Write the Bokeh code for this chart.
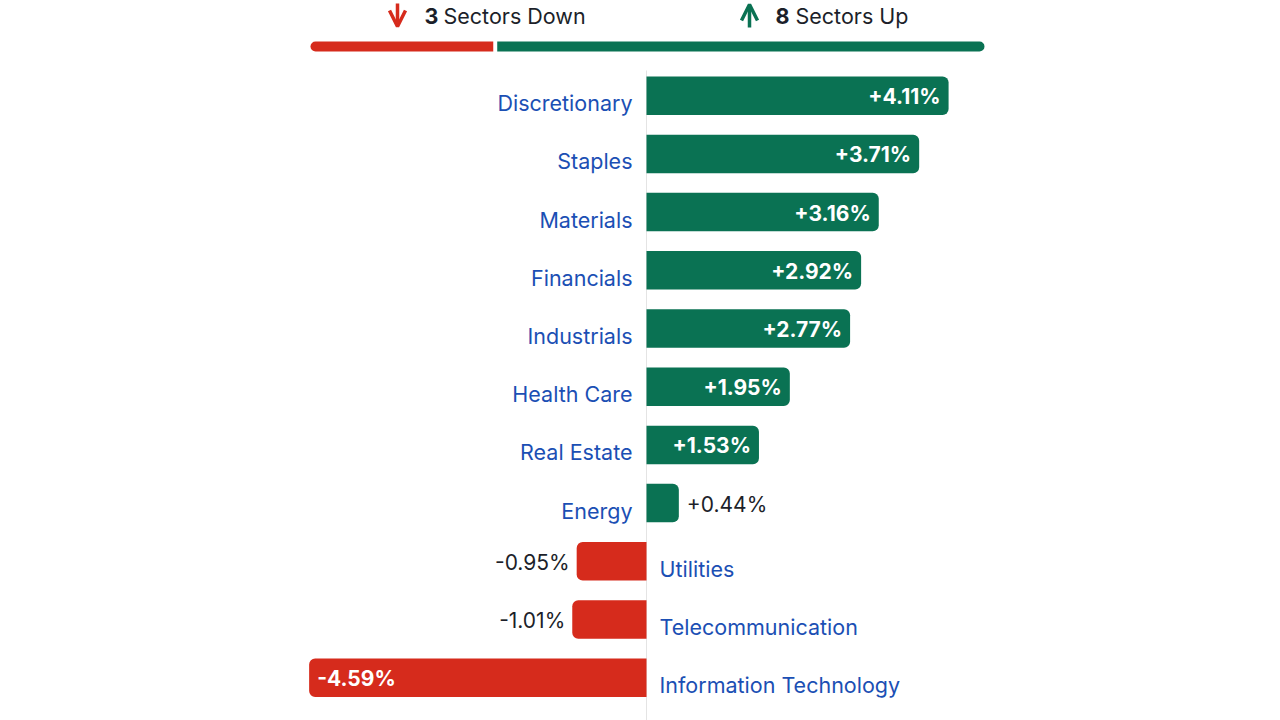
from bokeh.plotting import figure
from bokeh.models import Range1d, ColumnDataSource, Arrow, OpenHead
from bokeh.core.properties import value
from bokeh.embed import file_html
from bokeh.resources import INLINE

# ---- data ----
sectors = ["Discretionary", "Staples", "Materials", "Financials", "Industrials",
           "Health Care", "Real Estate", "Energy", "Utilities", "Telecommunication",
           "Information Technology"]
changes = [4.11, 3.71, 3.16, 2.92, 2.77, 1.95, 1.53, 0.44, -0.95, -1.01, -4.59]
down_label = "Sectors Down"
up_label = "Sectors Up"

# ---- layout constants (screen pixels) ----
W, H = 1280, 720
OX, OY = 0, 0
ZERO = 646.0
PXP = 73.5        # pixels per percent
ROW0 = 95.2
PITCH = 58.2
TXT_FIX = -8      # svg alphabetic baseline correction

GREEN = "#0a7253"
RED = "#d62b1c"
BLUE = "#1b4fb4"
DARK = "#1c1f2a"
FONT = value("Inter")

def sx(px):
    return (px - ZERO) / PXP

def sy(py):
    return (py - ROW0) / PITCH

p = figure(width=W, height=H, output_backend="svg", toolbar_location=None,
           x_range=Range1d(sx(OX), sx(OX + W)), y_range=Range1d(sy(OY + H), sy(OY)),
           min_border=0, outline_line_color=None)
p.axis.visible = False
p.grid.visible = False

idx = list(range(len(sectors)))
pos = [i for i in idx if changes[i] >= 0]
neg = [i for i in idx if changes[i] < 0]

# zero line
p.segment(x0=[0], y0=[sy(70)], x1=[0], y1=[sy(OY + H)], line_color="#e4e4e4", line_width=1)

bar_h = 38.5 / PITCH
p.hbar(y=[i for i in pos], left=0, right=[changes[i] for i in pos], height=bar_h,
       fill_color=GREEN, line_color=None, border_radius=(0, 6, 6, 0))
p.hbar(y=[i for i in neg], left=[changes[i] for i in neg], right=0, height=bar_h,
       fill_color=RED, line_color=None, border_radius=(6, 0, 0, 6))

# category labels
p.text(x=0, y=pos, text=[sectors[i] for i in pos], text_align="right",
       text_baseline="alphabetic", x_offset=-14, y_offset=15.5 + TXT_FIX,
       text_font=FONT, text_font_size="21.5px", text_color=BLUE)
p.text(x=0, y=neg, text=[sectors[i] for i in neg], text_align="left",
       text_baseline="alphabetic", x_offset=13, y_offset=15.5 + TXT_FIX,
       text_font=FONT, text_font_size="21.5px", text_color=BLUE)

# value labels
fmt = lambda v: f"{v:+.2f}%"
inside = [i for i in idx if abs(changes[i]) >= 1.5]
outside = [i for i in idx if abs(changes[i]) < 1.5]
for group, col, weight in ((inside, "white", "bold"), (outside, DARK, "normal")):
    src = ColumnDataSource(dict(
        x=[changes[i] for i in group], y=group,
        t=[fmt(changes[i]) for i in group],
        align=[("right" if changes[i] >= 0 else "left") if group is inside
               else ("left" if changes[i] >= 0 else "right") for i in group],
        xo=[(-8 if changes[i] >= 0 else 8) if group is inside
            else (8 if changes[i] >= 0 else -7) for i in group],
    ))
    p.text(x="x", y="y", text="t", source=src, text_align="align", x_offset="xo",
           y_offset=9 + TXT_FIX, text_baseline="alphabetic", text_font=FONT,
           text_font_size="21px", text_color=col, text_font_style=weight)

# header counts
n_down = len(neg)
n_up = len(pos)
hb = sy(23 + TXT_FIX)
p.text(x=[sx(424)], y=[hb], text=[str(n_down)], text_font=FONT, text_font_size="21.5px",
       text_font_style="bold", text_color=DARK, text_baseline="alphabetic")
p.text(x=[sx(443)], y=[hb], text=[down_label], text_font=FONT, text_font_size="21.5px",
       text_color=DARK, text_baseline="alphabetic")
p.text(x=[sx(775)], y=[hb], text=[str(n_up)], text_font=FONT, text_font_size="21.5px",
       text_font_style="bold", text_color=DARK, text_baseline="alphabetic")
p.text(x=[sx(795)], y=[hb], text=[up_label], text_font=FONT, text_font_size="21.5px",
       text_color=DARK, text_baseline="alphabetic")

p.add_layout(Arrow(end=OpenHead(size=16, line_color=RED, line_width=3.5),
                   x_start=sx(397), y_start=sy(3), x_end=sx(397), y_end=sy(26),
                   line_color=RED, line_width=3.5))
p.add_layout(Arrow(end=OpenHead(size=16, line_color=GREEN, line_width=3.5),
                   x_start=sx(749), y_start=sy(27), x_end=sx(749), y_end=sy(4),
                   line_color=GREEN, line_width=3.5))

# breadth bar
L, R, GAP = 310.0, 984.0, 4.0
red_w = (R - L - GAP) * n_down / (n_down + n_up)
p.quad(left=[sx(L)], right=[sx(L + red_w)], top=[sy(41)], bottom=[sy(51)],
       fill_color=RED, line_color=None, border_radius=(5, 0, 0, 5))
p.quad(left=[sx(L + red_w + GAP)], right=[sx(R)], top=[sy(41)], bottom=[sy(51)],
       fill_color=GREEN, line_color=None, border_radius=(0, 5, 5, 0))

open("out.html", "w").write(file_html(p, INLINE))
